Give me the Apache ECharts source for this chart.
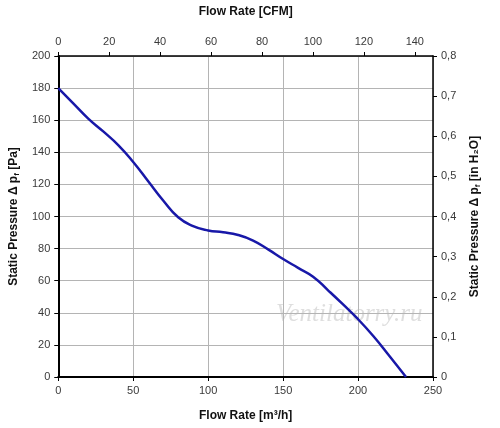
<!DOCTYPE html>
<html>
<head>
<meta charset="utf-8">
<script src="https://cdn.jsdelivr.net/npm/echarts@6/dist/echarts.min.js"></script>
<style>html,body{margin:0;padding:0;background:#fff;}#c{width:500px;height:428px;}</style>
</head>
<body>
<div id="c"></div>
<script>
// Flow rate in m³/h and static pressure in Pa
var flowM3h = [0, 10, 20, 30, 40, 50, 60, 70, 80, 90, 100, 110, 120, 130, 140, 150, 160, 170, 180, 190, 200, 210, 220, 232];
var pressurePa = [180, 170.5, 161, 153, 144.5, 134, 122, 110, 99.5, 94, 91.3, 90.2, 88.5, 85, 79.5, 73.5, 68, 62.5, 54, 45.2, 36, 25.7, 14.2, 0];
var cfmPerM3h = 1 / 1.699;

var data = flowM3h.map(function (q, i) { return [q, pressurePa[i]]; });
var font = 'Liberation Sans, Arial, sans-serif';
var lblStyle = { color: '#3a3a3a', fontSize: 11, fontFamily: font };
var nameStyle = { color: '#111', fontSize: 12, fontWeight: 'bold', fontFamily: font };
var axLine = function (w) { return { show: true, onZero: false, lineStyle: { color: '#000', width: w } }; };
var tick = { show: true, inside: false, length: 4, lineStyle: { color: '#000', width: 1 } };
var richName = {
  a: { color: '#111', fontSize: 12, fontWeight: 'bold', fontFamily: font },
  s: { color: '#111', fontSize: 8, fontWeight: 'bold', fontFamily: font, padding: [6, 0, 0, 0] }
};

var chart = echarts.init(document.getElementById('c'), null, { renderer: 'canvas' });
chart.setOption({
  animation: false,
  backgroundColor: '#fff',
  grid: { left: 58, right: 67, top: 56, bottom: 51, containLabel: false },
  xAxis: [{
    type: 'value', position: 'bottom', min: 0, max: 250, interval: 50,
    name: 'Flow Rate [m³/h]', nameLocation: 'middle', nameGap: 33, nameTextStyle: nameStyle,
    axisLine: axLine(2), axisTick: tick, axisLabel: Object.assign({ margin: 8 }, lblStyle),
    splitLine: { show: true, lineStyle: { color: '#b4b4b4', width: 1 } }
  }, {
    type: 'value', position: 'top', min: 0, max: 250 * cfmPerM3h, interval: 20,
    name: 'Flow Rate [CFM]', nameLocation: 'middle', nameGap: 38, nameTextStyle: nameStyle,
    axisLine: axLine(1.5), axisTick: tick,
    axisLabel: Object.assign({ margin: 9, showMaxLabel: false }, lblStyle),
    splitLine: { show: false }
  }],
  yAxis: [{
    type: 'value', position: 'left', min: 0, max: 200, interval: 20,
    name: '{a|Static Pressure Δ p}{s|f}{a| [Pa]}', nameLocation: 'middle', nameGap: 35, nameRotate: 90,
    nameTextStyle: { rich: richName },
    axisLine: axLine(2), axisTick: tick, axisLabel: Object.assign({ margin: 8 }, lblStyle),
    splitLine: { show: true, lineStyle: { color: '#b4b4b4', width: 1 } }
  }, {
    type: 'value', position: 'right', min: 0, max: 0.8, interval: 0.1,
    name: '{a|Static Pressure Δ p}{s|f}{a| [in H₂O]}', nameLocation: 'middle', nameGap: 35, nameRotate: 90,
    nameTextStyle: { rich: richName },
    axisLine: axLine(1.5), axisTick: tick,
    axisLabel: Object.assign({ margin: 8, formatter: function (v) { return String(Math.round(v * 10) / 10).replace('.', ','); } }, lblStyle),
    splitLine: { show: false }
  }],
  graphic: [{
    type: 'text', left: 276, top: 302, silent: true,
    style: { text: 'Ventilatorry.ru', fill: 'rgba(190,190,190,0.5)', font: 'italic 25px "Liberation Serif", serif' }
  }],
  series: [{
    type: 'line', xAxisIndex: 0, yAxisIndex: 0, data: data,
    smooth: 0.5, showSymbol: false, symbol: 'none',
    lineStyle: { color: '#1818a8', width: 2.5 }
  }]
});
</script>
</body>
</html>
